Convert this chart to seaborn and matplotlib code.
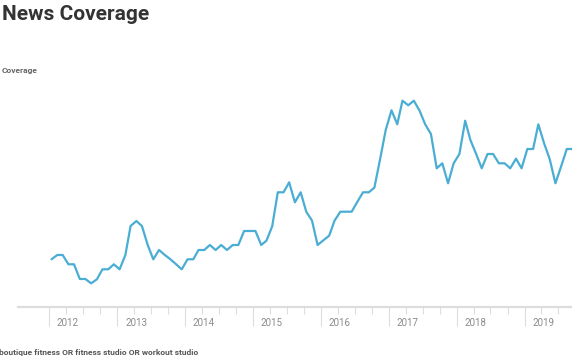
import matplotlib
matplotlib.use("Agg")
import matplotlib.pyplot as plt
import matplotlib.dates as mdates
import matplotlib.transforms as mtransforms
import seaborn as sns
import pandas as pd

# monthly coverage, Jan 2012 .. Sep 2019 (arbitrary units)
months = pd.date_range("2012-01-01", periods=93, freq="MS") + pd.Timedelta(days=14)
coverage = [
    47.7, 52, 52, 42.7, 42.7, 28, 28, 23.7, 27.7, 37.7, 37.7, 42.7,
    37.7, 52, 81, 86, 81, 62, 47.7, 57, 52, 47.7, 42.7, 37.7,
    47.7, 47.7, 57, 57, 62, 57, 62, 57, 62, 62, 76, 76,
    76, 62, 66.3, 80.7, 114.7, 114.7, 124.7, 104.7, 114.7, 95.3, 86.3, 62,
    66.7, 71.3, 86.3, 95.3, 95.3, 95.3, 105, 114.7, 114.7, 119.3, 148, 177,
    196.7, 182.7, 206.3, 201.7, 206.3, 196.3, 182.7, 173, 138.7, 143.7, 123.7, 143.7,
    153, 186.3, 167, 153, 138.7, 153, 153, 143.7, 143.7, 138.7, 148.3, 138.7,
    158, 158, 182.7, 163.7, 148, 123.7, 140.3, 158, 158,
]
year_ticks = pd.date_range("2012-01-01", "2019-01-01", freq="YS")
quarter_ticks = [d for d in pd.date_range("2012-01-01", "2019-09-01", freq="QS")
                 if d.month != 1]
series_name = "boutique fitness OR fitness studio OR workout studio"

df = pd.DataFrame({"month": months, "coverage": coverage})

sns.set_theme(style="white")
plt.rcParams["font.family"] = ["Roboto", "DejaVu Sans"]

fig = plt.figure(figsize=(5.72, 3.64), dpi=100)
ax = fig.add_axes([18 / 572, 57 / 364, 554 / 572, 227 / 364])

sns.lineplot(data=df, x="month", y="coverage", ax=ax, color="#4aadd3",
             linewidth=1.6, legend=False)

ax.set_xlim(pd.Timestamp("2011-07-19"), pd.Timestamp("2019-09-12"))
ax.set_ylim(0, 227)
ax.set_xlabel("")
ax.set_ylabel("")
ax.set_yticks([])

for side in ["top", "right", "left"]:
    ax.spines[side].set_visible(False)
ax.spines["bottom"].set_color("#dddddd")
ax.spines["bottom"].set_linewidth(1.6)

ax.set_xticks(year_ticks)
ax.set_xticklabels([str(d.year) for d in year_ticks])
ax.set_xticks(quarter_ticks, minor=True)
ax.tick_params(axis="x", which="major", direction="out", length=13.5, width=0.8,
               color="#dddddd", labelsize=7, labelcolor="#8a8a8a", pad=-5.5,
               bottom=True)
ax.tick_params(axis="x", which="minor", direction="out", length=5, width=0.8,
               color="#dddddd", bottom=True)
shift = mtransforms.ScaledTranslation(8 / 100, 0, fig.dpi_scale_trans)
for lbl in ax.get_xticklabels():
    lbl.set_horizontalalignment("left")
    lbl.set_transform(lbl.get_transform() + shift)

fig.text(2 / 572, 1 - 5 / 364, "News Coverage", fontsize=15, fontweight="bold",
         color="#333333", ha="left", va="top")
fig.text(2 / 572, 1 - 70 / 364, "Coverage", fontsize=6, fontweight="bold",
         color="#666666", ha="left", va="center")
fig.text(-1 / 572, 1 - 353 / 364, series_name, fontsize=6, fontweight="bold",
         color="#555555", ha="left", va="center")

fig.savefig("out.png", dpi=100)
